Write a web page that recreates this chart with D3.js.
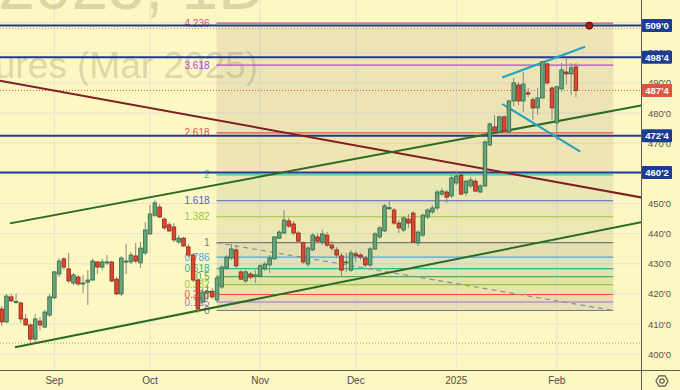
<!DOCTYPE html>
<html>
<head>
<meta charset="utf-8">
<script src="https://cdn.jsdelivr.net/npm/d3@7"></script>
<style>
  body { margin: 0; background: #fdf7c3; }
  svg { display: block; }
</style>
</head>
<body>
<div id="app"></div>
<script>
// ---- data (ZCH2025 daily) ----
const firstDay = new Date(2024, 7, 16)
const lastDay = new Date(2025, 1, 7)
const holidays = ['2024-09-02', '2024-11-28', '2024-12-25', '2025-01-01', '2025-01-20']

const opens = [
  415.0, 410.7, 419.0, 417.3, 417.0, 411.7, 409.7, 405.0, 411.0, 409.0,
  413.0, 418.7, 426.6, 431.6, 428.3, 423.6, 425.6, 423.3, 423.9, 424.6,
  430.6, 428.9, 430.3, 430.6, 424.9, 420.0, 430.6, 430.6, 432.6, 430.3,
  433.6, 439.9, 446.1, 448.8, 444.8, 442.9, 442.2, 437.2, 438.5, 435.6,
  432.9, 424.6, 417.3, 420.3, 420.9, 418.0, 422.3, 428.6, 431.9, 434.6,
  427.3, 424.3, 426.6, 425.9, 425.9, 428.3, 429.6, 431.6, 438.5, 440.2,
  444.2, 443.2, 440.2, 436.9, 429.9, 434.6, 438.9, 437.2, 439.5, 436.2,
  434.6, 432.6, 430.3, 427.9, 433.3, 432.9, 431.9, 429.6, 434.9, 438.9,
  440.9, 448.5, 447.8, 443.5, 441.2, 444.8, 446.8, 436.9, 439.5, 445.5,
  447.2, 448.5, 453.1, 453.8, 452.5, 456.8, 459.4, 453.5, 455.8, 457.4,
  453.8, 455.8, 469.4, 475.4, 473.7, 478.7, 473.7, 484.0, 489.3, 484.0,
  486.7, 484.4, 481.7, 485.0, 496.3, 488.3, 476.7, 488.0, 493.6, 493.0,
  495.3
]
const highs = [
  416.0, 420.0, 420.0, 420.0, 417.3, 413.3, 410.3, 413.3, 412.3, 414.7,
  420.0, 427.6, 431.9, 432.2, 433.6, 426.9, 426.3, 426.3, 427.9, 431.6,
  430.9, 431.6, 432.9, 430.9, 425.6, 432.6, 436.6, 433.9, 436.9, 437.2,
  443.8, 449.5, 451.1, 449.8, 445.5, 443.8, 443.5, 439.5, 438.9, 436.6,
  433.6, 424.9, 421.9, 422.9, 421.9, 426.3, 429.6, 432.9, 436.6, 436.2,
  427.9, 427.9, 427.3, 427.9, 429.9, 430.6, 432.9, 439.2, 441.2, 447.8,
  445.2, 444.2, 440.9, 437.5, 435.9, 440.2, 440.2, 441.2, 440.5, 437.5,
  435.6, 433.6, 433.6, 434.6, 434.2, 433.6, 432.6, 435.6, 440.5, 442.5,
  449.8, 451.1, 448.5, 444.5, 445.9, 446.5, 447.5, 441.2, 446.8, 448.5,
  449.5, 454.5, 455.1, 454.5, 459.4, 460.4, 460.1, 457.8, 458.9, 458.2,
  456.5, 471.0, 476.7, 479.3, 479.3, 479.3, 484.4, 491.6, 490.3, 493.6,
  488.3, 485.3, 488.3, 497.3, 496.6, 488.7, 489.0, 496.6, 498.5, 496.6,
  496.6
]
const lows = [
  409.4, 410.3, 417.3, 416.6, 410.3, 409.4, 403.7, 404.0, 408.0, 408.7,
  412.3, 418.3, 425.6, 427.9, 423.6, 422.9, 422.6, 420.3, 416.3, 424.3,
  426.6, 427.9, 429.6, 423.9, 419.6, 419.3, 426.6, 429.9, 430.3, 428.6,
  432.9, 439.5, 445.5, 445.2, 441.2, 440.5, 437.2, 436.6, 435.6, 432.2,
  423.9, 413.7, 416.3, 418.0, 418.3, 417.3, 421.6, 427.9, 431.2, 428.6,
  424.6, 423.6, 424.9, 423.6, 425.6, 427.6, 426.9, 431.2, 438.2, 439.9,
  441.9, 439.5, 436.9, 429.9, 428.9, 434.2, 436.9, 436.2, 435.6, 434.2,
  431.9, 425.6, 427.3, 427.3, 430.6, 431.2, 428.9, 428.9, 434.6, 438.2,
  440.5, 447.8, 442.9, 440.2, 440.5, 441.9, 436.9, 435.9, 438.9, 444.8,
  446.5, 447.8, 452.5, 450.2, 451.8, 456.1, 452.8, 452.5, 455.1, 453.8,
  453.5, 455.5, 469.0, 473.7, 473.4, 473.7, 473.4, 482.3, 482.6, 480.4,
  485.3, 477.7, 479.3, 484.7, 489.3, 477.7, 471.0, 487.0, 489.3, 486.0,
  485.3
]
const closes = [
  410.7, 419.3, 417.7, 417.5, 411.7, 409.7, 405.0, 411.7, 409.7, 414.0,
  419.0, 427.3, 430.9, 428.9, 424.3, 426.3, 423.3, 423.6, 424.6, 430.9,
  428.9, 430.6, 430.6, 424.3, 420.0, 431.9, 430.9, 432.9, 430.9, 435.2,
  441.2, 446.5, 450.2, 445.5, 441.9, 440.9, 437.9, 438.5, 435.9, 432.9,
  424.6, 415.0, 420.6, 420.9, 419.0, 425.3, 428.9, 432.2, 434.9, 429.3,
  424.9, 427.3, 425.6, 426.3, 429.3, 429.9, 431.9, 438.9, 440.5, 444.5,
  442.5, 440.2, 437.5, 430.6, 435.2, 439.5, 437.5, 439.9, 436.2, 435.2,
  432.9, 427.9, 430.6, 433.6, 432.6, 432.2, 429.6, 434.9, 439.9, 441.9,
  449.2, 448.6, 443.5, 441.9, 445.2, 443.5, 437.2, 440.5, 446.1, 447.8,
  448.5, 453.8, 454.1, 452.1, 458.5, 459.1, 453.1, 457.4, 457.8, 454.1,
  455.8, 470.4, 476.4, 474.0, 478.7, 474.0, 484.0, 490.0, 484.0, 489.6,
  486.3, 481.7, 485.0, 497.0, 490.0, 481.7, 488.7, 494.3, 493.0, 495.0,
  487.5
]

const priceTicks = [400, 410, 420, 430, 440, 450, 470, 480, 490, 500]

// fib retracement: [bar index, price] of its two anchors
const fibFrom = [44.9, 437.0]
const fibTo = [127.8, 414.5]
const fibLevels = [0, 0.125, 0.236, 0.382, 0.5, 0.618, 0.786, 1, 1.382, 1.618, 2, 2.618, 3.618, 4.236]

// horizontal levels
const levelLines = [509.0, 498.5, 472.5, 460.25]
const dottedLines = [508.0, 403.7]
const lastPrice = 487.5
const dotPoint = [122.8, 509.0]

// trend lines as [bar index, price] pairs
const redLine = [[-1, 490.9], [134, 451.9]]
const greenUpper = [[1.73, 443.4], [134, 482.6]]
const greenLower = [[2.78, 402.3], [134, 443.9]]
const tealUpper = [[104.6, 491.8], [121.9, 502.0]]
const tealLower = [[104.6, 483.0], [120.9, 467.2]]

// ---- styles ----
const W = 680, H = 390
const plotW = 641, plotH = 370
const bg = '#fdf7c3'
const font = '"Liberation Sans", Arial, sans-serif'
const fibColors = {
  0: '#787b86', 0.125: '#8f79c9', 0.236: '#e8534a', 0.382: '#9cc43c', 0.5: '#4cae50',
  0.618: '#2fb88c', 0.786: '#4ea6e0', 1: '#787b86', 1.382: '#9cc43c', 1.618: '#5560c8',
  2: '#34c8a4', 2.618: '#e8534a', 3.618: '#b04ccd', 4.236: '#d94a9c'
}
const up = { fill: '#66a47b', stroke: '#2f6a45' }
const down = { fill: '#e2452f', stroke: '#86281a' }

// ---- scales ----
const x = d3.scaleLinear().domain([-0.355, 133.6]).range([0, plotW])
const y = d3.scaleLinear().domain([400, 509]).range([354.2, 25.6])
const fmtPrice = p => Math.floor(p) + "'" + Math.round((p - Math.floor(p)) * 8)

const dayKey = d3.timeFormat('%Y-%m-%d')
const dates = d3.timeDay.range(firstDay, d3.timeDay.offset(lastDay, 1))
  .filter(d => d.getDay() % 6 !== 0 && !holidays.includes(dayKey(d)))
const monthTicks = dates.map((d, i) => ({ d, i }))
  .filter(({ d, i }) => i > 0 && d.getMonth() !== dates[i - 1].getMonth())

const svg = d3.select('#app').append('svg').attr('width', W).attr('height', H)
  .style('font-family', font)
svg.append('rect').attr('width', W).attr('height', H).attr('fill', bg)

svg.append('clipPath').attr('id', 'clip')
  .append('rect').attr('width', plotW).attr('height', plotH)
const plot = svg.append('g').attr('clip-path', 'url(#clip)')

// grid
plot.append('g').selectAll('line').data(d3.range(400, 511, 10)).join('line')
  .attr('x1', 0).attr('x2', plotW)
  .attr('y1', d => y(d)).attr('y2', d => y(d))
  .attr('stroke', '#e7e4cf').attr('stroke-width', 1)
plot.append('g').selectAll('line').data(monthTicks).join('line')
  .attr('x1', d => x(d.i)).attr('x2', d => x(d.i))
  .attr('y1', 0).attr('y2', plotH)
  .attr('stroke', '#e7e4cf').attr('stroke-width', 1)

// watermark
const wm = plot.append('g').attr('fill', '#8f8a63').attr('fill-opacity', 0.3)
wm.append('text').attr('x', 266).attr('y', 9).attr('text-anchor', 'end')
  .attr('font-size', 66).text('ZCH2025, 1D')
wm.append('text').attr('x', 258).attr('y', 78).attr('text-anchor', 'end')
  .attr('font-size', 37).text('Corn Futures (Mar 2025)')

// fib retracement
const fibPrice = L => fibTo[1] + L * (fibFrom[1] - fibTo[1])
const fx0 = x(fibFrom[0]), fx1 = x(fibTo[0])
const fib = plot.append('g')
const bands = d3.pairs(fibLevels)
fib.append('rect').attr('x', fx0).attr('width', fx1 - fx0)
  .attr('y', y(fibPrice(4.236))).attr('height', y(fibPrice(0)) - y(fibPrice(4.236)))
  .attr('fill', '#7f8a50').attr('fill-opacity', 0.11)
fib.selectAll('rect.band').data(bands).join('rect')
  .attr('class', 'band')
  .attr('x', fx0).attr('width', fx1 - fx0)
  .attr('y', d => y(fibPrice(d[1])))
  .attr('height', d => y(fibPrice(d[0])) - y(fibPrice(d[1])))
  .attr('fill', d => fibColors[d[1]]).attr('fill-opacity', d => d[1] <= 1 ? 0.09 : 0.03)
fib.selectAll('line.lvl').data(fibLevels).join('line')
  .attr('class', 'lvl')
  .attr('x1', fx0).attr('x2', fx1)
  .attr('y1', d => y(fibPrice(d))).attr('y2', d => y(fibPrice(d)))
  .attr('stroke', d => fibColors[d]).attr('stroke-width', 1.2)
fib.selectAll('text').data(fibLevels).join('text')
  .attr('x', fx0 - 7).attr('y', d => y(fibPrice(d)) + 3.5)
  .attr('text-anchor', 'end').attr('font-size', 10)
  .attr('fill', d => fibColors[d]).text(d => d)
fib.append('line')
  .attr('x1', fx0).attr('y1', y(fibFrom[1])).attr('x2', fx1).attr('y2', y(fibTo[1]))
  .attr('stroke', '#8d8f96').attr('stroke-width', 1.2).attr('stroke-dasharray', '5,4')

// horizontal lines
plot.append('g').selectAll('line').data(dottedLines).join('line')
  .attr('x1', 0).attr('x2', plotW).attr('y1', d => y(d)).attr('y2', d => y(d))
  .attr('stroke', '#9a9a8c').attr('stroke-dasharray', '1,2')
plot.append('line').attr('x1', 0).attr('x2', plotW)
  .attr('y1', y(lastPrice)).attr('y2', y(lastPrice))
  .attr('stroke', '#e0553d').attr('stroke-dasharray', '1,2')
plot.append('g').selectAll('line').data(levelLines).join('line')
  .attr('x1', 0).attr('x2', plotW).attr('y1', d => y(d)).attr('y2', d => y(d))
  .attr('stroke', '#1f3a93').attr('stroke-width', 2)

// trend lines
const line = d3.line().x(d => x(d[0])).y(d => y(d[1]))
const trends = [
  { pts: redLine, color: '#7e1f1f' },
  { pts: greenUpper, color: '#2b6a27' },
  { pts: greenLower, color: '#2b6a27' },
  { pts: tealUpper, color: '#22a3bd' },
  { pts: tealLower, color: '#22a3bd' }
]
plot.append('g').selectAll('path').data(trends).join('path')
  .attr('d', d => line(d.pts)).attr('fill', 'none')
  .attr('stroke', d => d.color).attr('stroke-width', 2)

// candles
const bars = opens.map((o, i) => ({ i, o, h: highs[i], l: lows[i], c: closes[i] }))
const cg = plot.append('g').selectAll('g').data(bars).join('g')
cg.append('line')
  .attr('x1', d => x(d.i)).attr('x2', d => x(d.i))
  .attr('y1', d => y(d.h)).attr('y2', d => y(d.l))
  .attr('stroke', '#858a80').attr('stroke-width', 1)
cg.append('rect')
  .attr('x', d => x(d.i) - 1.8).attr('width', 3.6)
  .attr('y', d => y(Math.max(d.o, d.c)))
  .attr('height', d => Math.max(1, Math.abs(y(d.o) - y(d.c))))
  .attr('fill', d => d.c >= d.o ? up.fill : down.fill)
  .attr('stroke', d => d.c >= d.o ? up.stroke : down.stroke)
  .attr('stroke-width', 0.8)

plot.append('circle').attr('cx', x(dotPoint[0])).attr('cy', y(dotPoint[1])).attr('r', 3.6)
  .attr('fill', '#9e1b22').attr('stroke', '#6d1016').attr('stroke-width', 1)

// axes
svg.append('line').attr('x1', plotW + 0.5).attr('x2', plotW + 0.5).attr('y1', 0).attr('y2', H)
  .attr('stroke', '#5d5d55').attr('stroke-width', 1)
svg.append('line').attr('x1', 0).attr('x2', W).attr('y1', plotH + 0.5).attr('y2', plotH + 0.5)
  .attr('stroke', '#5d5d55').attr('stroke-width', 1)

svg.append('g').selectAll('text').data(priceTicks).join('text')
  .attr('x', 648).attr('y', d => y(d) + 3.5)
  .attr('font-size', 9.5).attr('fill', '#55554d').text(fmtPrice)

const monthFmt = d3.timeFormat('%b')
svg.append('g').selectAll('text').data(monthTicks).join('text')
  .attr('x', d => x(d.i)).attr('y', 384).attr('text-anchor', 'middle')
  .attr('font-size', 10).attr('fill', '#4d4d46')
  .text(d => d.d.getMonth() === 0 ? d.d.getFullYear() : monthFmt(d.d))

// price markers
const markers = levelLines.map(p => ({ p, fill: '#1d3a96' }))
  .concat([{ p: lastPrice, fill: '#e0553d' }])
const mk = svg.append('g').selectAll('g').data(markers).join('g')
  .attr('transform', d => `translate(642,${y(d.p)})`)
mk.append('rect').attr('x', 0).attr('y', -6.5).attr('width', 30).attr('height', 13)
  .attr('rx', 1).attr('fill', d => d.fill)
mk.append('text').attr('x', 15).attr('y', 3.5).attr('text-anchor', 'middle')
  .attr('font-size', 9.5).attr('font-weight', 'bold').attr('fill', '#fff')
  .text(d => fmtPrice(d.p))

// settings icon
const gear = svg.append('g').attr('transform', 'translate(662,381)')
  .attr('fill', 'none').attr('stroke', '#55554d').attr('stroke-width', 1.2)
gear.append('path').attr('d', d3.range(6).map((k, j) => {
  const a = Math.PI / 3 * k
  return (j ? 'L' : 'M') + (6 * Math.cos(a)).toFixed(2) + ',' + (6 * Math.sin(a)).toFixed(2)
}).join('') + 'Z')
gear.append('circle').attr('r', 2.2)
</script>
</body>
</html>
